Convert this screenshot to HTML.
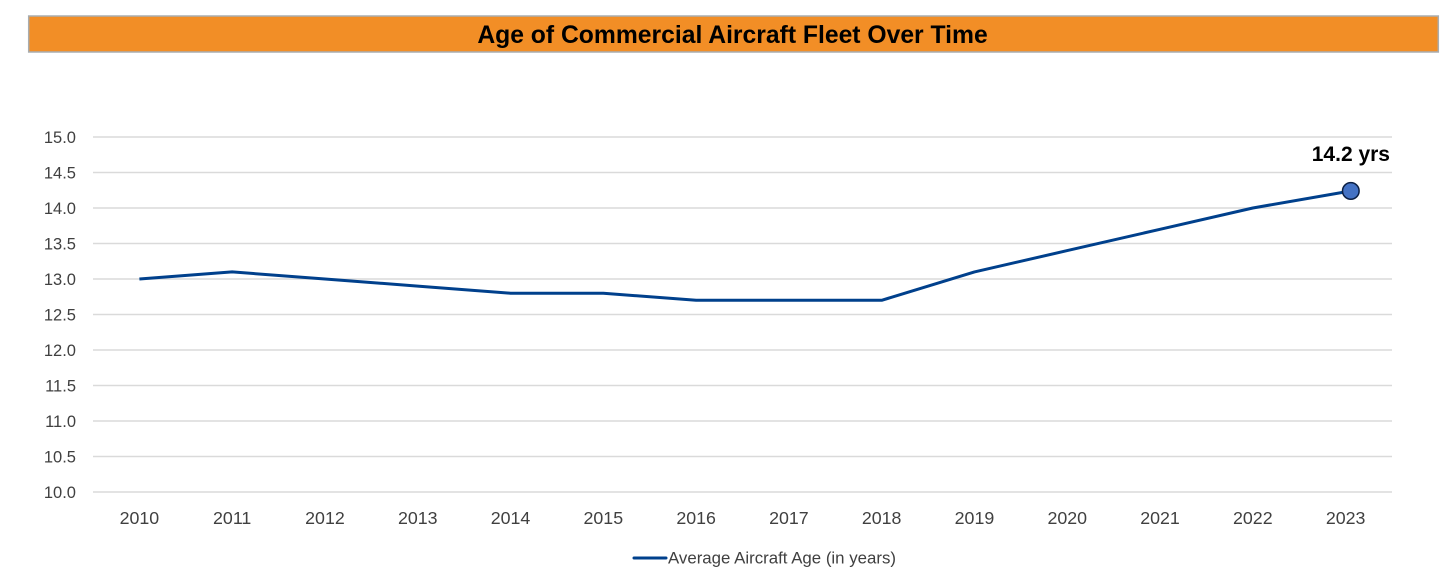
<!DOCTYPE html>
<html lang="en">
<head>
<meta charset="utf-8">
<title>Age of Commercial Aircraft Fleet Over Time</title>
<style>
html,body{margin:0;padding:0;background:#fff;width:1456px;height:588px;overflow:hidden}
svg{display:block;font-family:"Liberation Sans",sans-serif}
</style>
</head>
<body>
<svg id="chart" xmlns="http://www.w3.org/2000/svg" width="1456" height="588" viewBox="0 0 1456 588">
  <rect x="28.7" y="16" width="1409.6" height="36" fill="#f28e26" stroke="#a9adb0" stroke-width="1.5"/>
  <text x="732.5" y="43" text-anchor="middle" font-size="24.7" font-weight="700" fill="#000">Age of Commercial Aircraft Fleet Over Time</text>
  <g id="grid"></g>
  <g id="yticks"></g>
  <g id="xticks"></g>
  <g id="series"></g>
  <line x1="634" y1="558" x2="666" y2="558" stroke="#00408c" stroke-width="3" stroke-linecap="round"/>
  <text x="668" y="563.5" font-size="16.6" fill="#404040" textLength="228" lengthAdjust="spacingAndGlyphs">Average Aircraft Age (in years)</text>
</svg>
<script>
const categories = ['2010','2011','2012','2013','2014','2015','2016','2017','2018','2019','2020','2021','2022','2023'];
const ageValues = [13.0,13.1,13.0,12.9,12.8,12.8,12.7,12.7,12.7,13.1,13.4,13.7,14.0,14.24];
const yTickValues = [10,10.5,11,11.5,12,12.5,13,13.5,14,14.5,15];
const endLabel = '14.2 yrs';

const NS = 'http://www.w3.org/2000/svg';
const plotLeft = 93, plotRight = 1392, plotTop = 137, plotBottom = 492;
const yMin = 10, yMax = 15;
const lastPointNudge = 5;

function xScale(i) {
  const band = (plotRight - plotLeft) / categories.length;
  return plotLeft + band * (i + 0.5);
}
function yScale(v) {
  return plotBottom - (v - yMin) / (yMax - yMin) * (plotBottom - plotTop);
}
function make(tag, attrs, parent, text) {
  const el = document.createElementNS(NS, tag);
  for (const k in attrs) el.setAttribute(k, attrs[k]);
  if (text !== undefined) el.textContent = text;
  parent.appendChild(el);
  return el;
}

const grid = document.getElementById('grid');
const yticks = document.getElementById('yticks');
const xticks = document.getElementById('xticks');
const series = document.getElementById('series');

yTickValues.forEach(function (v) {
  const line = make('line', {x1: plotLeft, x2: plotRight, y1: yScale(v), y2: yScale(v), stroke: '#dadada', 'stroke-width': 1.4}, grid);
  
  
  const label = make('text', {x: 76, y: yScale(v) + 6, 'text-anchor': 'end', 'font-size': 16.5, fill: '#404040'}, yticks, v.toFixed(1));
  
  
});

categories.forEach(function (c, i) {
  const label = make('text', {x: xScale(i), y: 524, 'text-anchor': 'middle', 'font-size': 17.8, fill: '#404040'}, xticks, c);
  
  
});

const lastIndex = ageValues.length - 1;
function pointX(i) {
  return xScale(i) + (i === lastIndex ? lastPointNudge : 0);
}
const pts = ageValues.map(function (v, i) {
  return pointX(i) + ',' + yScale(v);
}).join(' ');
const polyline = make('polyline', {points: pts, fill: 'none', stroke: '#00408c', 'stroke-width': 3, 'stroke-linejoin': 'round'}, series);



const marker = make('circle', {cx: pointX(lastIndex) + 0.2, cy: yScale(ageValues[lastIndex]), r: 8.3, fill: '#4472c4', stroke: '#0b1f44', 'stroke-width': 1.5}, series);



const valueLabel = make('text', {x: 1390, y: yScale(ageValues[lastIndex]) - 30, 'text-anchor': 'end', 'font-size': 21, 'font-weight': 700, fill: '#000'}, series, endLabel);


</script>
</body>
</html>
